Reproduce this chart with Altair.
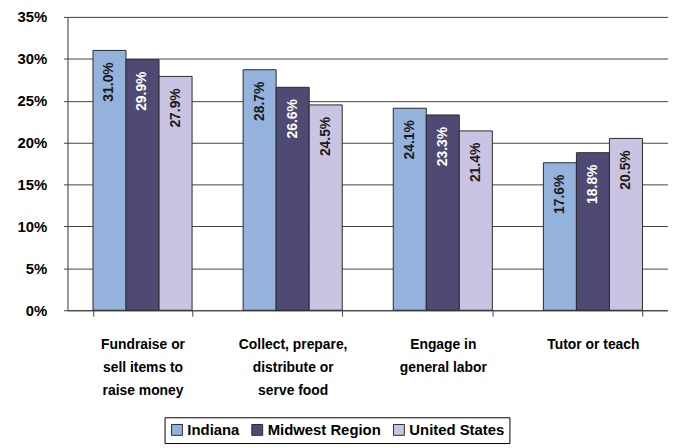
import altair as alt
import pandas as pd

categories = [
    "Fundraise or|sell items to|raise money",
    "Collect, prepare,|distribute or|serve food",
    "Engage in|general labor",
    "Tutor or teach",
]
series = ["Indiana", "Midwest Region", "United States"]
indiana = [31.0, 28.7, 24.1, 17.6]
midwest = [29.9, 26.6, 23.3, 18.8]
united_states = [27.9, 24.5, 21.4, 20.5]
colors = ["#93B3DD", "#4E4A74", "#C8C4E1"]

rows = []
for vals, s in zip([indiana, midwest, united_states], series):
    for c, v in zip(categories, vals):
        rows.append({"Activity": c, "Series": s, "Value": v / 100.0})
df = pd.DataFrame(rows)

FONT = "Liberation Sans, Arial, sans-serif"

x = alt.X(
    "Activity:N",
    sort=categories,
    title=None,
    scale=alt.Scale(paddingInner=0.34, paddingOuter=0.17),
    axis=alt.Axis(
        labelAngle=0,
        labelExpr="split(datum.label, '|')",
        labelFont=FONT,
        labelFontSize=14,
        labelFontWeight="bold",
        labelColor="#000000",
        labelLineHeight=23,
        labelPadding=29,
        labelBaseline="middle",
        tickBand="extent",
        tickSize=6,
        tickColor="#444444",
        domainColor="#444444",
        grid=False,
    ),
)
xoff = alt.XOffset("Series:N", sort=series)

y = alt.Y(
    "Value:Q",
    title=None,
    scale=alt.Scale(domain=[0, 0.35], nice=False),
    axis=alt.Axis(
        values=[0, 0.05, 0.10, 0.15, 0.20, 0.25, 0.30, 0.35],
        format=".0%",
        labelFont=FONT,
        labelFontSize=15,
        labelFontWeight="bold",
        labelColor="#000000",
        labelPadding=17,
        tickSize=4,
        tickColor="#444444",
        domainColor="#444444",
        gridColor="#444444",
        gridWidth=1,
        gridOpacity=1,
    ),
)

bars = alt.Chart(df).mark_bar(stroke="#2b2b2b", strokeWidth=1).encode(
    x=x,
    xOffset=xoff,
    y=y,
    color=alt.Color(
        "Series:N",
        sort=series,
        scale=alt.Scale(domain=series, range=colors),
        legend=alt.Legend(
            title=None,
            orient="none",
            legendX=98,
            legendY=404,
            direction="horizontal",
            symbolType="square",
            symbolSize=120,
            symbolStrokeColor="#2b2b2b",
            symbolStrokeWidth=1,
            labelFont=FONT,
            labelFontSize=15,
            labelFontWeight="bold",
            labelColor="#000000",
            strokeColor="#000000",
            padding=5,
            columnPadding=10,
            labelOffset=3,
        ),
    ),
)

labels = alt.Chart(df).transform_calculate(
    lab="format(datum.Value * 100, '.1f') + '%'"
).mark_text(
    angle=270,
    align="right",
    baseline="middle",
    dx=-12,
    font=FONT,
    fontSize=14,
    fontWeight="bold",
).encode(
    x=alt.X("Activity:N", sort=categories),
    xOffset=xoff,
    y=alt.Y("Value:Q"),
    text="lab:N",
    color=alt.condition(
        "datum.Series == 'Midwest Region'", alt.value("#ffffff"), alt.value("#1a1a1a")
    ),
)

chart = (
    alt.layer(bars, labels)
    .properties(width=606, height=296, padding={"left": 8, "top": 0, "right": 0, "bottom": 0})
    .configure_view(stroke=None)
    .configure(background="#ffffff")
)

chart.save("out.html", embed_options={"renderer": "svg", "actions": False})
